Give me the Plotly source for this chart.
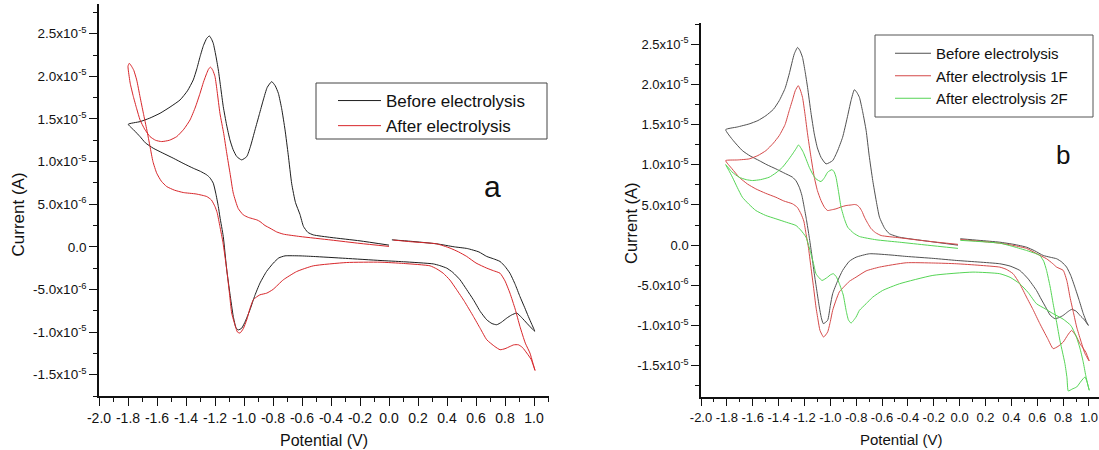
import numpy as np
import plotly.graph_objects as go

# ---------------- data (potential in V, current in units of 1e-5 A) ----------------
# Panel a
E_a_before = [0.02, 0.15, 0.33, 0.45, 0.54, 0.62, 0.674, 0.72, 0.766, 0.80, 0.834, 0.87, 0.903, 0.935, 0.961, 0.985, 1.005,
              0.975, 0.95, 0.915, 0.881, 0.845, 0.812, 0.775, 0.743, 0.71, 0.674, 0.63, 0.582, 0.535, 0.49, 0.44, 0.398, 0.35,
              0.305, 0.1, -0.062, -0.3, -0.522, -0.614, -0.717, -0.76, -0.798, -0.845, -0.89, -0.925, -0.959, -0.99, -1.016,
              -1.04, -1.055, -1.074, -1.097, -1.119, -1.143, -1.166, -1.177, -1.195, -1.212, -1.235, -1.257, -1.30, -1.35,
              -1.42, -1.488, -1.56, -1.626, -1.68, -1.717, -1.76, -1.798,
              -1.717, -1.65, -1.579, -1.51, -1.441, -1.39, -1.35, -1.325, -1.303, -1.28, -1.257, -1.239, -1.225, -1.212,
              -1.195, -1.177, -1.16, -1.143, -1.12, -1.097, -1.075, -1.05, -1.016, -0.981, -0.955, -0.924, -0.895, -0.867,
              -0.84, -0.809, -0.785, -0.763, -0.74, -0.717, -0.695, -0.671, -0.645, -0.614, -0.59, -0.56, -0.522, -0.4,
              -0.2, 0.0]
I_a_before = [0.082, 0.065, 0.035, 0.0, -0.02, -0.06, -0.113, -0.14, -0.172, -0.23, -0.31, -0.44, -0.583, -0.71, -0.817, -0.91, -0.99,
              -0.94, -0.895, -0.83, -0.777, -0.80, -0.836, -0.885, -0.914, -0.90, -0.856, -0.76, -0.621, -0.50, -0.387, -0.30,
              -0.25, -0.22, -0.2, -0.175, -0.16, -0.135, -0.113, -0.106, -0.106, -0.13, -0.191, -0.29, -0.426, -0.57, -0.739,
              -0.87, -0.955, -0.975, -0.95, -0.817, -0.55, -0.27, 0.121, 0.35, 0.472, 0.63, 0.747, 0.81, 0.844, 0.885, 0.922,
              0.98, 1.04, 1.10, 1.157, 1.22, 1.293, 1.37, 1.438,
              1.469, 1.51, 1.567, 1.64, 1.723, 1.83, 1.958, 2.09, 2.231, 2.36, 2.446, 2.474, 2.44, 2.388,
              2.25, 2.075, 1.86, 1.645, 1.43, 1.254, 1.14, 1.059, 1.02, 1.059, 1.18, 1.372, 1.55, 1.723,
              1.87, 1.938, 1.89, 1.801, 1.62, 1.372, 1.08, 0.74, 0.52, 0.38, 0.24, 0.17, 0.14, 0.11,
              0.07, 0.02]

E_a_after = [0.03, 0.15, 0.329, 0.421, 0.48, 0.536, 0.60, 0.674, 0.72, 0.766, 0.80, 0.834, 0.87, 0.903, 0.94, 0.972, 0.99, 1.007,
             0.98, 0.95, 0.92, 0.892, 0.86, 0.834, 0.80, 0.766, 0.73, 0.674, 0.63, 0.582, 0.52, 0.467, 0.42, 0.374, 0.33,
             0.283, 0.1, -0.062, -0.292, -0.522, -0.637, -0.729, -0.80, -0.843, -0.89, -0.915, -0.936, -0.96, -0.981,
             -1.005, -1.028, -1.045, -1.06, -1.085, -1.10, -1.119, -1.145, -1.166, -1.185, -1.2, -1.225, -1.257, -1.33,
             -1.419, -1.48, -1.533, -1.57, -1.602, -1.628, -1.648, -1.67, -1.694, -1.717, -1.74, -1.76, -1.774, -1.791,
             -1.80, -1.798, -1.785, -1.763, -1.74, -1.717, -1.685, -1.648, -1.61, -1.568, -1.515, -1.464, -1.415, -1.372,
             -1.335, -1.303, -1.28, -1.257, -1.243, -1.23, -1.215, -1.2, -1.185, -1.166, -1.14, -1.119, -1.095, -1.074,
             -1.04, -1.005, -0.97, -0.936, -0.91, -0.89, -0.855, -0.821, -0.775, -0.729, -0.614, -0.4, -0.2, 0.0]
I_a_after = [0.08, 0.06, 0.035, -0.015, -0.06, -0.113, -0.19, -0.25, -0.28, -0.31, -0.40, -0.543, -0.73, -0.934, -1.13, -1.246, -1.35, -1.45,
             -1.32, -1.246, -1.18, -1.149, -1.15, -1.169, -1.195, -1.207, -1.17, -1.09, -0.96, -0.817, -0.64, -0.504, -0.39, -0.31, -0.26,
             -0.223, -0.195, -0.18, -0.184, -0.223, -0.29, -0.387, -0.50, -0.543, -0.563, -0.59, -0.621, -0.73, -0.856,
             -0.96, -1.012, -1.0, -0.93, -0.777, -0.55, -0.27, 0.05, 0.238, 0.40, 0.472, 0.55, 0.59, 0.62,
             0.637, 0.665, 0.707, 0.77, 0.864, 1.0, 1.176, 1.37, 1.567, 1.76, 1.958, 2.07, 2.114, 2.153,
             2.12, 2.075, 1.92, 1.762, 1.62, 1.489, 1.38, 1.293, 1.25, 1.235, 1.25, 1.293, 1.38, 1.489,
             1.64, 1.802, 1.93, 2.036, 2.09, 2.107, 2.07, 1.997, 1.82, 1.567, 1.33, 1.098, 0.85, 0.63,
             0.45, 0.375, 0.345, 0.328, 0.315, 0.297, 0.25, 0.219, 0.175, 0.149, 0.121, 0.08, 0.04, 0.005]

# Panel b
E_b_before = [0.005, 0.15, 0.31, 0.42, 0.517, 0.58, 0.646, 0.70, 0.75, 0.79, 0.827, 0.86, 0.891, 0.925, 0.956, 0.98, 0.995,
              0.965, 0.93, 0.90, 0.866, 0.835, 0.801, 0.77, 0.736, 0.70, 0.672, 0.63, 0.594, 0.53, 0.465, 0.39, 0.31, 0.15,
              -0.026, -0.2, -0.413, -0.55, -0.698, -0.80, -0.853, -0.905, -0.945, -0.982, -1.0, -1.021, -1.054, -1.07,
              -1.085, -1.105, -1.124, -1.145, -1.163, -1.185, -1.202, -1.22, -1.24, -1.265, -1.292, -1.36, -1.421, -1.49,
              -1.55, -1.62, -1.68, -1.75, -1.809,
              -1.72, -1.628, -1.56, -1.498, -1.44, -1.395, -1.35, -1.318, -1.279, -1.253, -1.235, -1.215, -1.195, -1.176,
              -1.15, -1.124, -1.1, -1.072, -1.033, -0.982, -0.945, -0.905, -0.87, -0.84, -0.814, -0.795, -0.775, -0.75,
              -0.723, -0.70, -0.672, -0.645, -0.62, -0.58, -0.543, -0.465, -0.25, -0.013]
I_b_before = [0.08, 0.06, 0.037, 0.01, -0.025, -0.07, -0.128, -0.15, -0.169, -0.21, -0.273, -0.38, -0.522, -0.69, -0.852, -0.95, -0.998,
              -0.93, -0.873, -0.82, -0.799, -0.83, -0.873, -0.90, -0.914, -0.87, -0.79, -0.67, -0.563, -0.42, -0.314, -0.26, -0.231, -0.21,
              -0.19, -0.165, -0.14, -0.12, -0.107, -0.149, -0.20, -0.314, -0.45, -0.604, -0.75, -0.935, -0.976, -0.9,
              -0.77, -0.56, -0.355, -0.1, 0.099, 0.32, 0.472, 0.62, 0.72, 0.80, 0.845, 0.90, 0.949, 1.0,
              1.052, 1.11, 1.176, 1.30, 1.437,
              1.47, 1.508, 1.55, 1.611, 1.69, 1.798, 1.95, 2.129, 2.378, 2.46, 2.42, 2.335, 2.16, 1.963,
              1.65, 1.384, 1.21, 1.093, 1.011, 1.052, 1.17, 1.342, 1.58, 1.798, 1.934, 1.90, 1.839, 1.66,
              1.425, 1.12, 0.804, 0.55, 0.348, 0.21, 0.142, 0.099, 0.05, 0.0]

E_b_1F = [0.005, 0.31, 0.42, 0.517, 0.6, 0.672, 0.72, 0.75, 0.801, 0.83, 0.853, 0.88, 0.905, 0.935, 0.969, 1.002,
          0.975, 0.95, 0.93, 0.90, 0.866, 0.835, 0.801, 0.76, 0.723, 0.68, 0.62, 0.567, 0.517, 0.465, 0.413, 0.36, 0.31,
          0.15, -0.026, -0.2, -0.413, -0.62, -0.723, -0.801, -0.853, -0.89, -0.93, -0.955, -0.982, -1.0, -1.021, -1.052,
          -1.08, -1.095, -1.111, -1.13, -1.15, -1.17, -1.188, -1.205, -1.227, -1.255, -1.292, -1.36, -1.421, -1.5,
          -1.576, -1.64, -1.705, -1.76, -1.809,
          -1.72, -1.628, -1.56, -1.498, -1.44, -1.395, -1.35, -1.318, -1.29, -1.271, -1.248, -1.232, -1.215, -1.195,
          -1.176, -1.15, -1.124, -1.1, -1.072, -1.045, -1.021, -0.99, -0.956, -0.917, -0.878, -0.84, -0.814, -0.795,
          -0.775, -0.755, -0.736, -0.71, -0.684, -0.65, -0.607, -0.465, -0.25, -0.013]
I_b_1F = [0.07, 0.025, -0.005, -0.04, -0.11, -0.169, -0.23, -0.273, -0.314, -0.45, -0.646, -0.84, -1.019, -1.18, -1.349, -1.441,
          -1.33, -1.27, -1.225, -1.13, -1.06, -1.12, -1.205, -1.26, -1.287, -1.16, -0.976, -0.80, -0.646, -0.48, -0.355, -0.30, -0.273,
          -0.25, -0.231, -0.222, -0.219, -0.273, -0.32, -0.398, -0.45, -0.51, -0.58, -0.68, -0.811, -0.95, -1.081, -1.143,
          -1.06, -0.93, -0.77, -0.52, -0.273, -0.02, 0.142, 0.30, 0.39, 0.47, 0.514, 0.55, 0.596, 0.645,
          0.7, 0.76, 0.845, 0.95, 1.052,
          1.06, 1.073, 1.115, 1.176, 1.27, 1.363, 1.50, 1.673, 1.82, 1.922, 1.984, 1.93, 1.839, 1.62,
          1.384, 1.10, 0.845, 0.68, 0.555, 0.47, 0.431, 0.44, 0.452, 0.475, 0.493, 0.50, 0.506, 0.50,
          0.472, 0.42, 0.348, 0.27, 0.204, 0.155, 0.12, 0.092, 0.05, 0.01]

E_b_2F = [0.005, 0.31, 0.42, 0.517, 0.58, 0.62, 0.65, 0.672, 0.70, 0.723, 0.75, 0.775, 0.795, 0.814, 0.83, 0.84, 0.87, 0.905,
          0.94, 0.969, 0.985, 1.002,
          0.99, 0.975, 0.955, 0.93, 0.90, 0.86, 0.80, 0.72, 0.66, 0.594, 0.53, 0.465, 0.39, 0.31, 0.103, -0.207, -0.465,
          -0.595, -0.672, -0.723, -0.775, -0.801, -0.84, -0.86, -0.878, -0.90, -0.93, -0.955, -0.977, -1.0, -1.021, -1.064,
          -1.09, -1.111, -1.13, -1.15, -1.188, -1.23, -1.266, -1.34, -1.421, -1.5, -1.576, -1.63, -1.68, -1.72, -1.757,
          -1.785, -1.809,
          -1.76, -1.705, -1.65, -1.602, -1.54, -1.473, -1.42, -1.37, -1.33, -1.292, -1.265, -1.246, -1.228, -1.209,
          -1.185, -1.163, -1.135, -1.111, -1.072, -1.045, -1.021, -0.987, -0.97, -0.956, -0.935, -0.917, -0.89, -0.866,
          -0.82, -0.775, -0.646, -0.465, -0.25, -0.013]
I_b_2F = [0.06, 0.025, -0.02, -0.066, -0.1, -0.128, -0.2, -0.314, -0.52, -0.728, -0.96, -1.184, -1.33, -1.473, -1.65, -1.814, -1.79, -1.764,
          -1.69, -1.64, -1.70, -1.805,
          -1.73, -1.62, -1.45, -1.28, -1.13, -1.0, -0.92, -0.85, -0.79, -0.728, -0.59, -0.48, -0.40, -0.355, -0.335, -0.376, -0.48,
          -0.563, -0.646, -0.728, -0.811, -0.894, -0.969, -0.93, -0.811, -0.62, -0.48, -0.39, -0.355, -0.37, -0.398, -0.439,
          -0.40, -0.355, -0.23, -0.107, 0.099, 0.19, 0.245, 0.285, 0.328, 0.37, 0.431, 0.51, 0.596, 0.72, 0.845,
          0.93, 1.002,
          0.91, 0.845, 0.815, 0.804, 0.815, 0.845, 0.90, 0.969, 1.05, 1.135, 1.20, 1.247, 1.21, 1.155,
          1.06, 0.969, 0.88, 0.825, 0.791, 0.84, 0.907, 0.94, 0.91, 0.845, 0.65, 0.472, 0.32, 0.224,
          0.15, 0.108, 0.067, 0.037, 0.0, -0.04]

SCALE = 1e-5

x_ticks = [-2.0, -1.8, -1.6, -1.4, -1.2, -1.0, -0.8, -0.6, -0.4, -0.2, 0.0, 0.2, 0.4, 0.6, 0.8, 1.0]
x_tick_text = ["-2.0", "-1.8", "-1.6", "-1.4", "-1.2", "-1.0", "-0.8", "-0.6", "-0.4", "-0.2",
               "0.0", "0.2", "0.4", "0.6", "0.8", "1.0"]
y_ticks = [2.5e-5, 2.0e-5, 1.5e-5, 1.0e-5, 5.0e-6, 0.0, -5.0e-6, -1.0e-5, -1.5e-5]
y_tick_text = ["2.5x10<sup>-5</sup>", "2.0x10<sup>-5</sup>", "1.5x10<sup>-5</sup>", "1.0x10<sup>-5</sup>",
               "5.0x10<sup>-6</sup>", "0.0", "-5.0x10<sup>-6</sup>", "-1.0x10<sup>-5</sup>", "-1.5x10<sup>-5</sup>"]

W, H = 1099, 450
FONT = "Liberation Sans, Arial, sans-serif"

fig = go.Figure()

def add_curve(E, I, name, color, xa, ya, legend):
    fig.add_trace(go.Scatter(
        x=E, y=np.array(I) * SCALE, mode="lines", name=name,
        line=dict(color=color, width=1, shape="spline", smoothing=0.5),
        xaxis=xa, yaxis=ya, legend=legend, hoverinfo="skip"))

add_curve(E_a_before, I_a_before, "Before electrolysis", "#1e1e1e", "x", "y", "legend")
add_curve(E_a_after, I_a_after, "After electrolysis", "#d8262a", "x", "y", "legend")
add_curve(E_b_before, I_b_before, "Before electrolysis", "#505050", "x2", "y2", "legend2")
add_curve(E_b_1F, I_b_1F, "After electrolysis 1F", "#d44848", "x2", "y2", "legend2")
add_curve(E_b_2F, I_b_2F, "After electrolysis 2F", "#55d455", "x2", "y2", "legend2")

def px_x(p):
    return p / W

def px_y(p):
    return 1 - p / H

def x_axis(size):
    return dict(
        tickmode="array", tickvals=x_ticks, ticktext=x_tick_text, tickangle=0, automargin=False,
        ticks="outside", ticklen=8, tickwidth=1.2, tickcolor="#111",
        showline=True, linecolor="#111", linewidth=1.5, showgrid=False, zeroline=False,
        tickfont=dict(family=FONT, size=size, color="#111"),
        minor=dict(ticks="outside", ticklen=4, tickwidth=1.2, tickcolor="#111", dtick=0.1, tick0=0, showgrid=False),
    )

def y_axis(size):
    return dict(
        tickmode="array", tickvals=y_ticks, ticktext=y_tick_text, automargin=False,
        ticks="outside", ticklen=8, tickwidth=1.2, tickcolor="#111",
        showline=True, linecolor="#111", linewidth=1.5, showgrid=False, zeroline=False,
        tickfont=dict(family=FONT, size=size, color="#111"),
        minor=dict(ticks="outside", ticklen=4, tickwidth=1.2, tickcolor="#111", dtick=0.25e-5, tick0=0, showgrid=False),
    )

fig.update_layout(
    template="none",
    width=W, height=H, margin=dict(l=0, r=0, t=0, b=0, pad=0, autoexpand=False),
    paper_bgcolor="white", plot_bgcolor="white",
    font=dict(family=FONT, color="#111"),
    xaxis=dict(domain=[px_x(99), px_x(549)], range=[-2.0, 1.1034], anchor="y", **x_axis(14)),
    yaxis=dict(domain=[px_y(396), px_y(3.9)], range=[-1.75e-5, 2.85e-5], anchor="x", **y_axis(13.5)),
    xaxis2=dict(domain=[px_x(701), 1.0], range=[-2.0, 1.0775], anchor="y2", **x_axis(13)),
    yaxis2=dict(domain=[px_y(396.7), px_y(23.3)], range=[-1.885e-5, 2.76e-5], anchor="x2", **y_axis(13)),
    # legend frames are drawn as rectangles below; the legends themselves are unframed
    legend=dict(x=px_x(333), y=px_y(83), xanchor="left", yanchor="top", itemwidth=43,
                borderwidth=0, bgcolor="rgba(0,0,0,0)",
                font=dict(family=FONT, size=17, color="#111"), tracegroupgap=0),
    legend2=dict(x=px_x(890), y=px_y(37), xanchor="left", yanchor="top", itemwidth=36,
                 borderwidth=0, bgcolor="rgba(0,0,0,0)",
                 font=dict(family=FONT, size=15, color="#111"), tracegroupgap=0),
    showlegend=True,
    shapes=[
        dict(type="rect", xref="paper", yref="paper", x0=px_x(316), x1=px_x(547), y0=px_y(139), y1=px_y(83),
             line=dict(color="#444", width=1), fillcolor="white", layer="above"),
        dict(type="rect", xref="paper", yref="paper", x0=px_x(875), x1=px_x(1093), y0=px_y(117), y1=px_y(35),
             line=dict(color="#555", width=1), fillcolor="white", layer="above"),
    ],
)

annotations = [
    dict(text="Current (A)", x=px_x(17.5), y=px_y(215), textangle=-90, font=dict(size=17)),
    dict(text="Current (A)", x=px_x(631), y=px_y(223), textangle=-90, font=dict(size=16.5)),
    dict(text="Potential (V)", x=px_x(324), y=px_y(440), font=dict(size=16)),
    dict(text="Potential (V)", x=px_x(901), y=px_y(439), font=dict(size=15)),
    dict(text="a", x=px_x(492), y=px_y(186), font=dict(size=30)),
    dict(text="b", x=px_x(1063), y=px_y(155), font=dict(size=26)),
]
for a in annotations:
    a.update(xref="paper", yref="paper", showarrow=False, xanchor="center", yanchor="middle")
    a["font"].update(family=FONT, color="#111")
fig.update_layout(annotations=annotations)

fig.write_html("out.html")
